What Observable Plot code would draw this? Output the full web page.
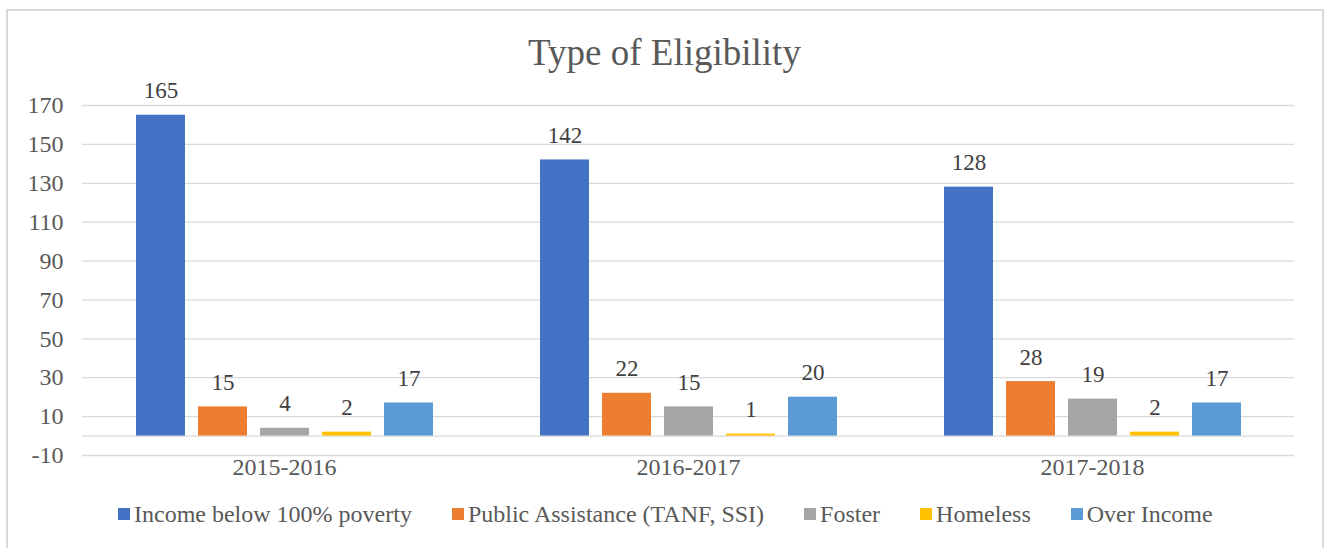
<!DOCTYPE html>
<html>
<head>
<meta charset="utf-8">
<script src="https://cdn.jsdelivr.net/npm/d3@7"></script>
<script src="https://cdn.jsdelivr.net/npm/@observablehq/plot@0.6"></script>
<style>
  html, body { margin: 0; padding: 0; background: #fff; }
  #wrap { position: relative; width: 1333px; height: 548px; overflow: hidden; font-family: "Liberation Serif", "Times New Roman", Tinos, "DejaVu Serif", serif; }
  #border { position: absolute; left: 6px; top: 9px; width: 1314px; height: 560px; border: 2px solid #d9d9d9; pointer-events: none; z-index: 5; }
  #title { position: absolute; left: 6px; width: 1317px; top: 34px; text-align: center; font-size: 37px; line-height: 37px; color: #595959; }
  #chart { position: absolute; left: 0; top: 0; }
  #legend { position: absolute; left: 118px; top: 502px; display: flex; gap: 40px; font-size: 24px; line-height: 24px; color: #595959; white-space: nowrap; }
  .item { display: flex; align-items: center; }
  .sw { width: 12px; height: 12px; margin-right: 4px; }
</style>
</head>
<body>
<div id="wrap">
  <div id="chart"></div>
  <div id="title">Type of Eligibility</div>
  <div id="legend"></div>
  <div id="border"></div>
</div>
<script>
const groups = ["2015-2016", "2016-2017", "2017-2018"];
const series = ["Income below 100% poverty", "Public Assistance (TANF, SSI)", "Foster", "Homeless", "Over Income"];
const incomeBelowPoverty = [165, 142, 128];
const publicAssistance = [15, 22, 28];
const foster = [4, 15, 19];
const homeless = [2, 1, 2];
const overIncome = [17, 20, 17];
const colors = ["#4472C4", "#ED7D31", "#A5A5A5", "#FFC000", "#5B9BD5"];
const yTicks = [-10, 10, 30, 50, 70, 90, 110, 130, 150, 170];

const seriesValues = [incomeBelowPoverty, publicAssistance, foster, homeless, overIncome];
const data = [];
groups.forEach((g, gi) => {
  series.forEach((s, si) => {
    data.push({group: g, series: s, value: seriesValues[si][gi]});
  });
});

const serif = '"Liberation Serif", "Times New Roman", Tinos, "DejaVu Serif", serif';

const chart = Plot.plot({
  width: 1333,
  height: 480,
  marginLeft: 81,
  marginRight: 39,
  marginTop: 105,
  marginBottom: 25,
  style: { fontFamily: serif, fontSize: "24px", color: "#595959", background: "transparent" },
  fx: { domain: groups, padding: 0, axis: "bottom", label: null, tickSize: 0, tickPadding: 2 },
  x: { domain: series, paddingInner: 0.21, paddingOuter: 0.863, axis: null },
  y: { domain: [-10, 170], ticks: yTicks, tickSize: 0, tickPadding: 19, label: null, tickFormat: d => String(d) },
  color: { domain: series, range: colors },
  marks: [
    Plot.gridY(yTicks, { stroke: "#d9d9d9", strokeOpacity: 1, strokeWidth: 1.3 }),
    Plot.ruleY([0], { stroke: "#d9d9d9", strokeOpacity: 1, strokeWidth: 1.3 }),
    Plot.barY(data, { fx: "group", x: "series", y: "value", fill: "series" }),
    Plot.text(data, { fx: "group", x: "series", y: "value", text: d => String(d.value), lineAnchor: "bottom", dy: -17, fontSize: 23, fontFamily: serif, fill: "#404040" })
  ]
});
document.getElementById("chart").appendChild(chart);

const legend = document.getElementById("legend");
series.forEach((s, i) => {
  const item = document.createElement("div");
  item.className = "item";
  const sw = document.createElement("div");
  sw.className = "sw";
  sw.style.background = colors[i];
  const t = document.createElement("span");
  t.textContent = s;
  item.appendChild(sw);
  item.appendChild(t);
  legend.appendChild(item);
});
</script>
</body>
</html>
